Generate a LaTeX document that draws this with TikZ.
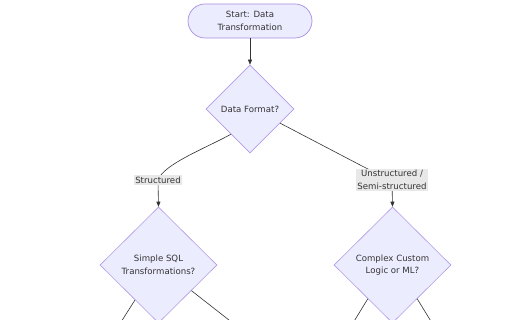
\documentclass[tikz,border=0pt]{standalone}
\usepackage{fontspec}
\setmainfont{DejaVu Sans}
\usetikzlibrary{shapes.geometric,arrows.meta,calc}
\definecolor{nodefill}{HTML}{ECECFF}
\definecolor{nodeline}{HTML}{9370DB}
\definecolor{txt}{HTML}{333333}
\definecolor{lblbg}{HTML}{E8E8E8}
\tikzset{
  every node/.style={text=txt, font=\fontsize{8.6}{12.5}\selectfont},
  pill/.style={draw=nodeline!80, fill=nodefill, line width=0.7pt, rounded corners=17pt,
    minimum width=124pt, minimum height=34pt, align=center, inner sep=0pt},
  decision/.style={diamond, draw=nodeline!70, fill=nodefill, line width=0.6pt, align=center,
    inner sep=0pt},
  conn/.style={draw=txt, line width=0.6pt},
  arr/.style={conn, -{Triangle[length=5pt,width=4pt]}},
  elabel/.style={fill=lblbg, inner sep=1.5pt, align=center}
}
\begin{document}
\begin{tikzpicture}[x=1pt,y=-1pt]
\clip (0,0) rectangle (512,320);
\useasboundingbox (0,0) rectangle (512,320);
\fill[white] (0,0) rectangle (512,320);

\node[pill] (start) at (250,21) {Start: Data\\Transformation};
\node[decision, minimum width=88pt, minimum height=88pt] (df) at (250,109) {Data Format?};
\node[decision, minimum width=117pt, minimum height=116pt] (sql) at (158.5,265) {Simple SQL\\Transformations?};
\node[decision, minimum width=117pt, minimum height=116pt] (cx) at (392.5,265) {Complex Custom\\Logic or ML?};

\coordinate (dfl) at ($(df.west)!0.57!(df.south)$);
\coordinate (dfr) at ($(df.east)!0.32!(df.south)$);
\coordinate (lblL) at (158,180);
\coordinate (lblR) at (392,180);

\draw[arr] (start) -- (df);
\draw[arr] (dfl) .. controls (204,149) and (164,164) .. (lblL) -- (sql.north);
\draw[arr] (dfr) -- (362,166) .. controls (386,178) and (392,182) .. (lblR) -- (cx.north);
\node[elabel] (l1) at (lblL) {Structured};
\node[elabel] (l2) at (lblR) {Unstructured /\\Semi-structured};

\coordinate (sqlA) at ($(sql.west)!0.6!(sql.south)$);
\coordinate (sqlB) at ($(sql.east)!0.44!(sql.south)$);
\coordinate (cxA) at ($(cx.west)!0.58!(cx.south)$);
\coordinate (cxB) at ($(cx.east)!0.58!(cx.south)$);
\coordinate (sqlAend) at ($(sqlA)+(-19,30)$);
\coordinate (sqlBend) at ($(sqlB)+(46,36)$);
\coordinate (cxAend) at ($(cxA)+(-19,31)$);
\coordinate (cxBend) at ($(cxB)+(19,31)$);
\draw[conn] (sqlA) -- (sqlAend);
\draw[conn] (sqlB) -- (sqlBend);
\draw[conn] (cxA) -- (cxAend);
\draw[conn] (cxB) -- (cxBend);
\end{tikzpicture}
\end{document}
